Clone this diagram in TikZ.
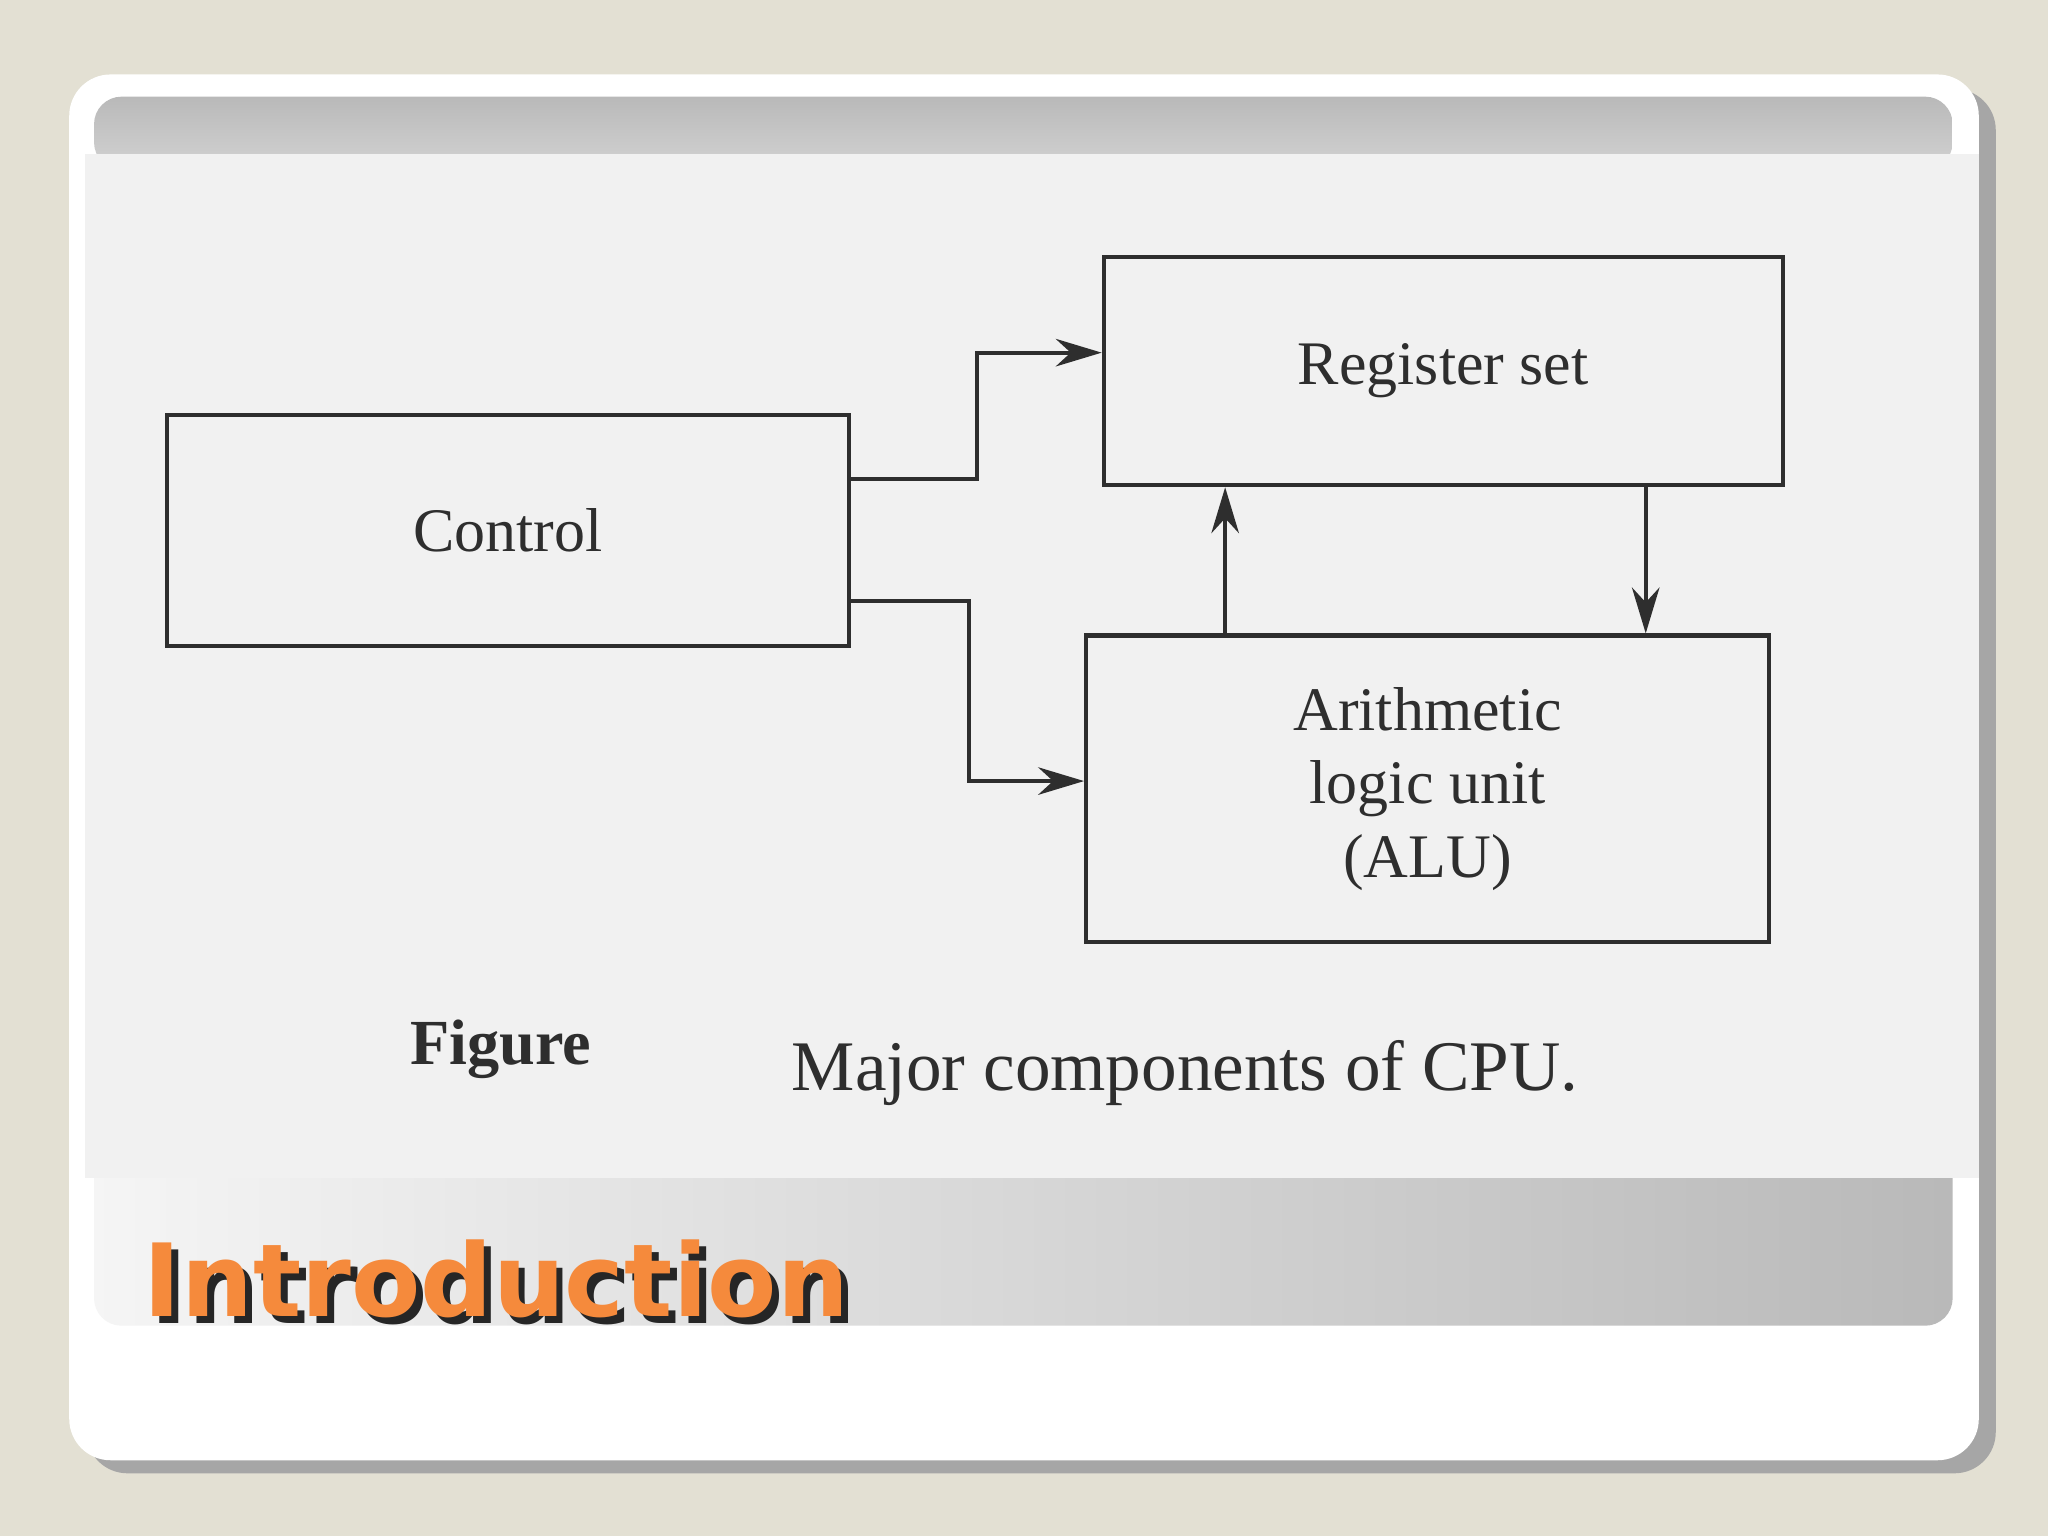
\documentclass[tikz,border=0pt]{standalone}
\usepackage{fontspec}
\setmainfont{Liberation Serif}
\newfontfamily\titlefont{DejaVu Sans}
\usetikzlibrary{arrows.meta,shadows}
\definecolor{bg}{HTML}{E3E0D3}
\definecolor{scan}{HTML}{F1F1F1}
\definecolor{ink}{HTML}{2E2E2E}
\definecolor{orng}{HTML}{F58A3C}
\tikzset{
  blk/.style={draw=ink,line width=1.8pt,minimum width=10.44cm,inner sep=0pt,align=center,font=\fontsize{27}{32}\selectfont,text=ink},
  wire/.style={draw=ink,line width=1.7pt,-{Stealth[length=20pt,width=12pt]}}
}
\begin{document}
\begin{tikzpicture}[x=0.02cm,y=-0.02cm]
\useasboundingbox (0,0) rectangle (1568,1176);
\fill[bg] (0,0) rectangle (1568,1176);
\fill[gray!70,rounded corners=18pt] (66,68) rectangle (1528,1128);
\fill[white,rounded corners=18pt] (53,57) rectangle (1515,1118);
\shade[top color=gray!55,bottom color=gray!35,rounded corners=12pt] (72,74) rectangle (1495,130);
\shade[left color=gray!8,right color=gray!55,rounded corners=12pt] (72,880) rectangle (1495,1015);
\fill[scan] (65,118) rectangle (1515,902);
\node[blk,minimum height=3.54cm] (ctrl) at (389,406) {Control};
\node[blk,minimum height=3.5cm,minimum width=10.4cm] (reg) at (1105,284) {Register set};
\node[blk,minimum height=4.7cm,minimum width=10.46cm] (alu) at (1093,604) {Arithmetic\\logic unit\\(ALU)};
\draw[wire] (ctrl.east |- 0,367) -- (748,367) -- (748,270) -- (reg.west |- 0,270);
\draw[wire] (ctrl.east |- 0,460) -- (742,460) -- (742,598) -- (alu.west |- 0,598);
\draw[wire] (alu.north -| 938,0) -- (reg.south -| 938,0);
\draw[wire] (reg.south -| 1260,0) -- (alu.north -| 1260,0);
\node[font=\bfseries\fontsize{28}{32}\selectfont,text=ink,anchor=base west] (fig) at (308,815) {Figure};
\node[font=\fontsize{31}{34}\selectfont,text=ink,anchor=base west] (cap) at (600,835) {Major components of CPU.};
\node[font=\titlefont\bfseries\fontsize{44}{50}\selectfont,text=orng,anchor=base west,
  preaction={}] (title) at (104,1008) {\rlap{\hspace{3pt}\raisebox{-3pt}{\textcolor{black!85}{Introduction}}}Introduction};
\end{tikzpicture}
\end{document}
